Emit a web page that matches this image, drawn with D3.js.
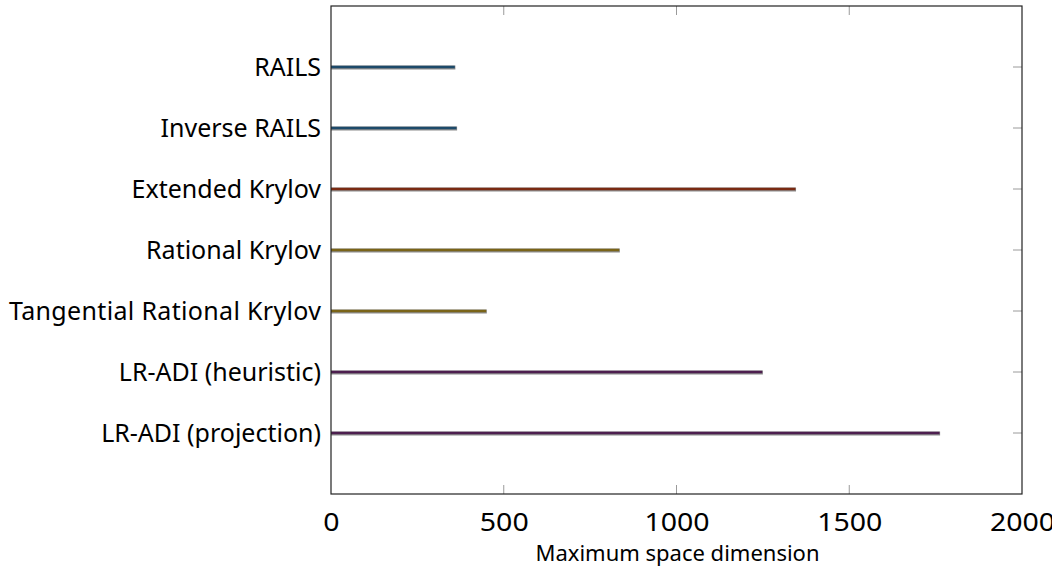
<!DOCTYPE html>
<html>
<head>
<meta charset="utf-8">
<script src="https://cdn.jsdelivr.net/npm/d3@7"></script>
<style>
  html, body { margin: 0; padding: 0; background: #fff; }
  svg { display: block; }
  text { font-family: "Noto Sans", "DejaVu Sans", sans-serif; fill: #000; }
</style>
</head>
<body>
<svg id="chart" width="1052" height="567"></svg>
<script>
// Methods and their maximum projection space dimension
const methods = [
  "RAILS",
  "Inverse RAILS",
  "Extended Krylov",
  "Rational Krylov",
  "Tangential Rational Krylov",
  "LR-ADI (heuristic)",
  "LR-ADI (projection)"
];
const maxDimension = [360, 365, 1346, 836, 451, 1250, 1763];
const barColors = ["#1d4a6a", "#1d4a6a", "#7a2a12", "#7a6418", "#7a6418", "#4d1f4f", "#4d1f4f"];
const xTicks = [0, 500, 1000, 1500, 2000];
const xTitle = "Maximum space dimension";

const svg = d3.select("#chart");
const plotLeft = 331, plotRight = 1022, plotTop = 6, plotBottom = 494;

const x = d3.scaleLinear().domain([0, 2000]).range([plotLeft, plotRight]);
const y = d3.scalePoint().domain(methods).range([plotTop, plotBottom]).padding(1);

// grey tick marks pointing into the frame
const tickColor = "#9a9a9a", tickLen = 9;
const g = svg.append("g");
xTicks.slice(1, -1).forEach(t => {
  g.append("line").attr("x1", x(t)).attr("x2", x(t)).attr("y1", plotBottom).attr("y2", plotBottom - tickLen)
    .attr("stroke", tickColor).attr("stroke-width", 1);
  g.append("line").attr("x1", x(t)).attr("x2", x(t)).attr("y1", plotTop).attr("y2", plotTop + tickLen)
    .attr("stroke", tickColor).attr("stroke-width", 1);
});
methods.forEach(m => {
  g.append("line").attr("x1", plotRight).attr("x2", plotRight - tickLen).attr("y1", y(m)).attr("y2", y(m))
    .attr("stroke", tickColor).attr("stroke-width", 1);
});

// bars drawn as thick strokes with a soft grey halo
const bars = svg.append("g");
methods.forEach((m, i) => {
  bars.append("line")
    .attr("x1", x(0)).attr("x2", x(maxDimension[i]))
    .attr("y1", y(m) + 0.5).attr("y2", y(m) + 0.5)
    .attr("stroke", "#8c8c8c").attr("stroke-width", 4.2);
  bars.append("line")
    .attr("x1", x(0)).attr("x2", x(maxDimension[i]) - 0.6)
    .attr("y1", y(m)).attr("y2", y(m))
    .attr("stroke", barColors[i]).attr("stroke-width", 2.6);
});

// frame
svg.append("rect").attr("x", plotLeft).attr("y", plotTop)
  .attr("width", plotRight - plotLeft).attr("height", plotBottom - plotTop)
  .attr("fill", "none").attr("stroke", "#222").attr("stroke-width", 1.2);

// x tick labels
const xAxis = d3.axisBottom(x).tickValues(xTicks).tickSize(0).tickPadding(0).tickFormat(d3.format("d"));
const ax = svg.append("g").attr("transform", `translate(0,${plotBottom})`).call(xAxis);
ax.select(".domain").remove();
ax.selectAll("text").attr("font-size", 25).attr("dy", null).attr("y", 37)
  .style("font-family", '"Noto Sans", "DejaVu Sans", sans-serif').attr("fill", "#000")
  .attr("textLength", d => String(d).length * 16.3).attr("lengthAdjust", "spacingAndGlyphs");

// category labels
svg.append("g").selectAll("text").data(methods).join("text")
  .attr("x", 321).attr("y", d => y(d) + 9)
  .attr("text-anchor", "end").attr("font-size", 25)
  .attr("textLength", d => d === "Tangential Rational Krylov" ? 312 : null)
  .text(d => d);

// axis title
svg.append("text").attr("x", (plotLeft + plotRight) / 2 + 1).attr("y", 561)
  .attr("text-anchor", "middle").attr("font-size", 22)
  .text(xTitle);
</script>
</body>
</html>
